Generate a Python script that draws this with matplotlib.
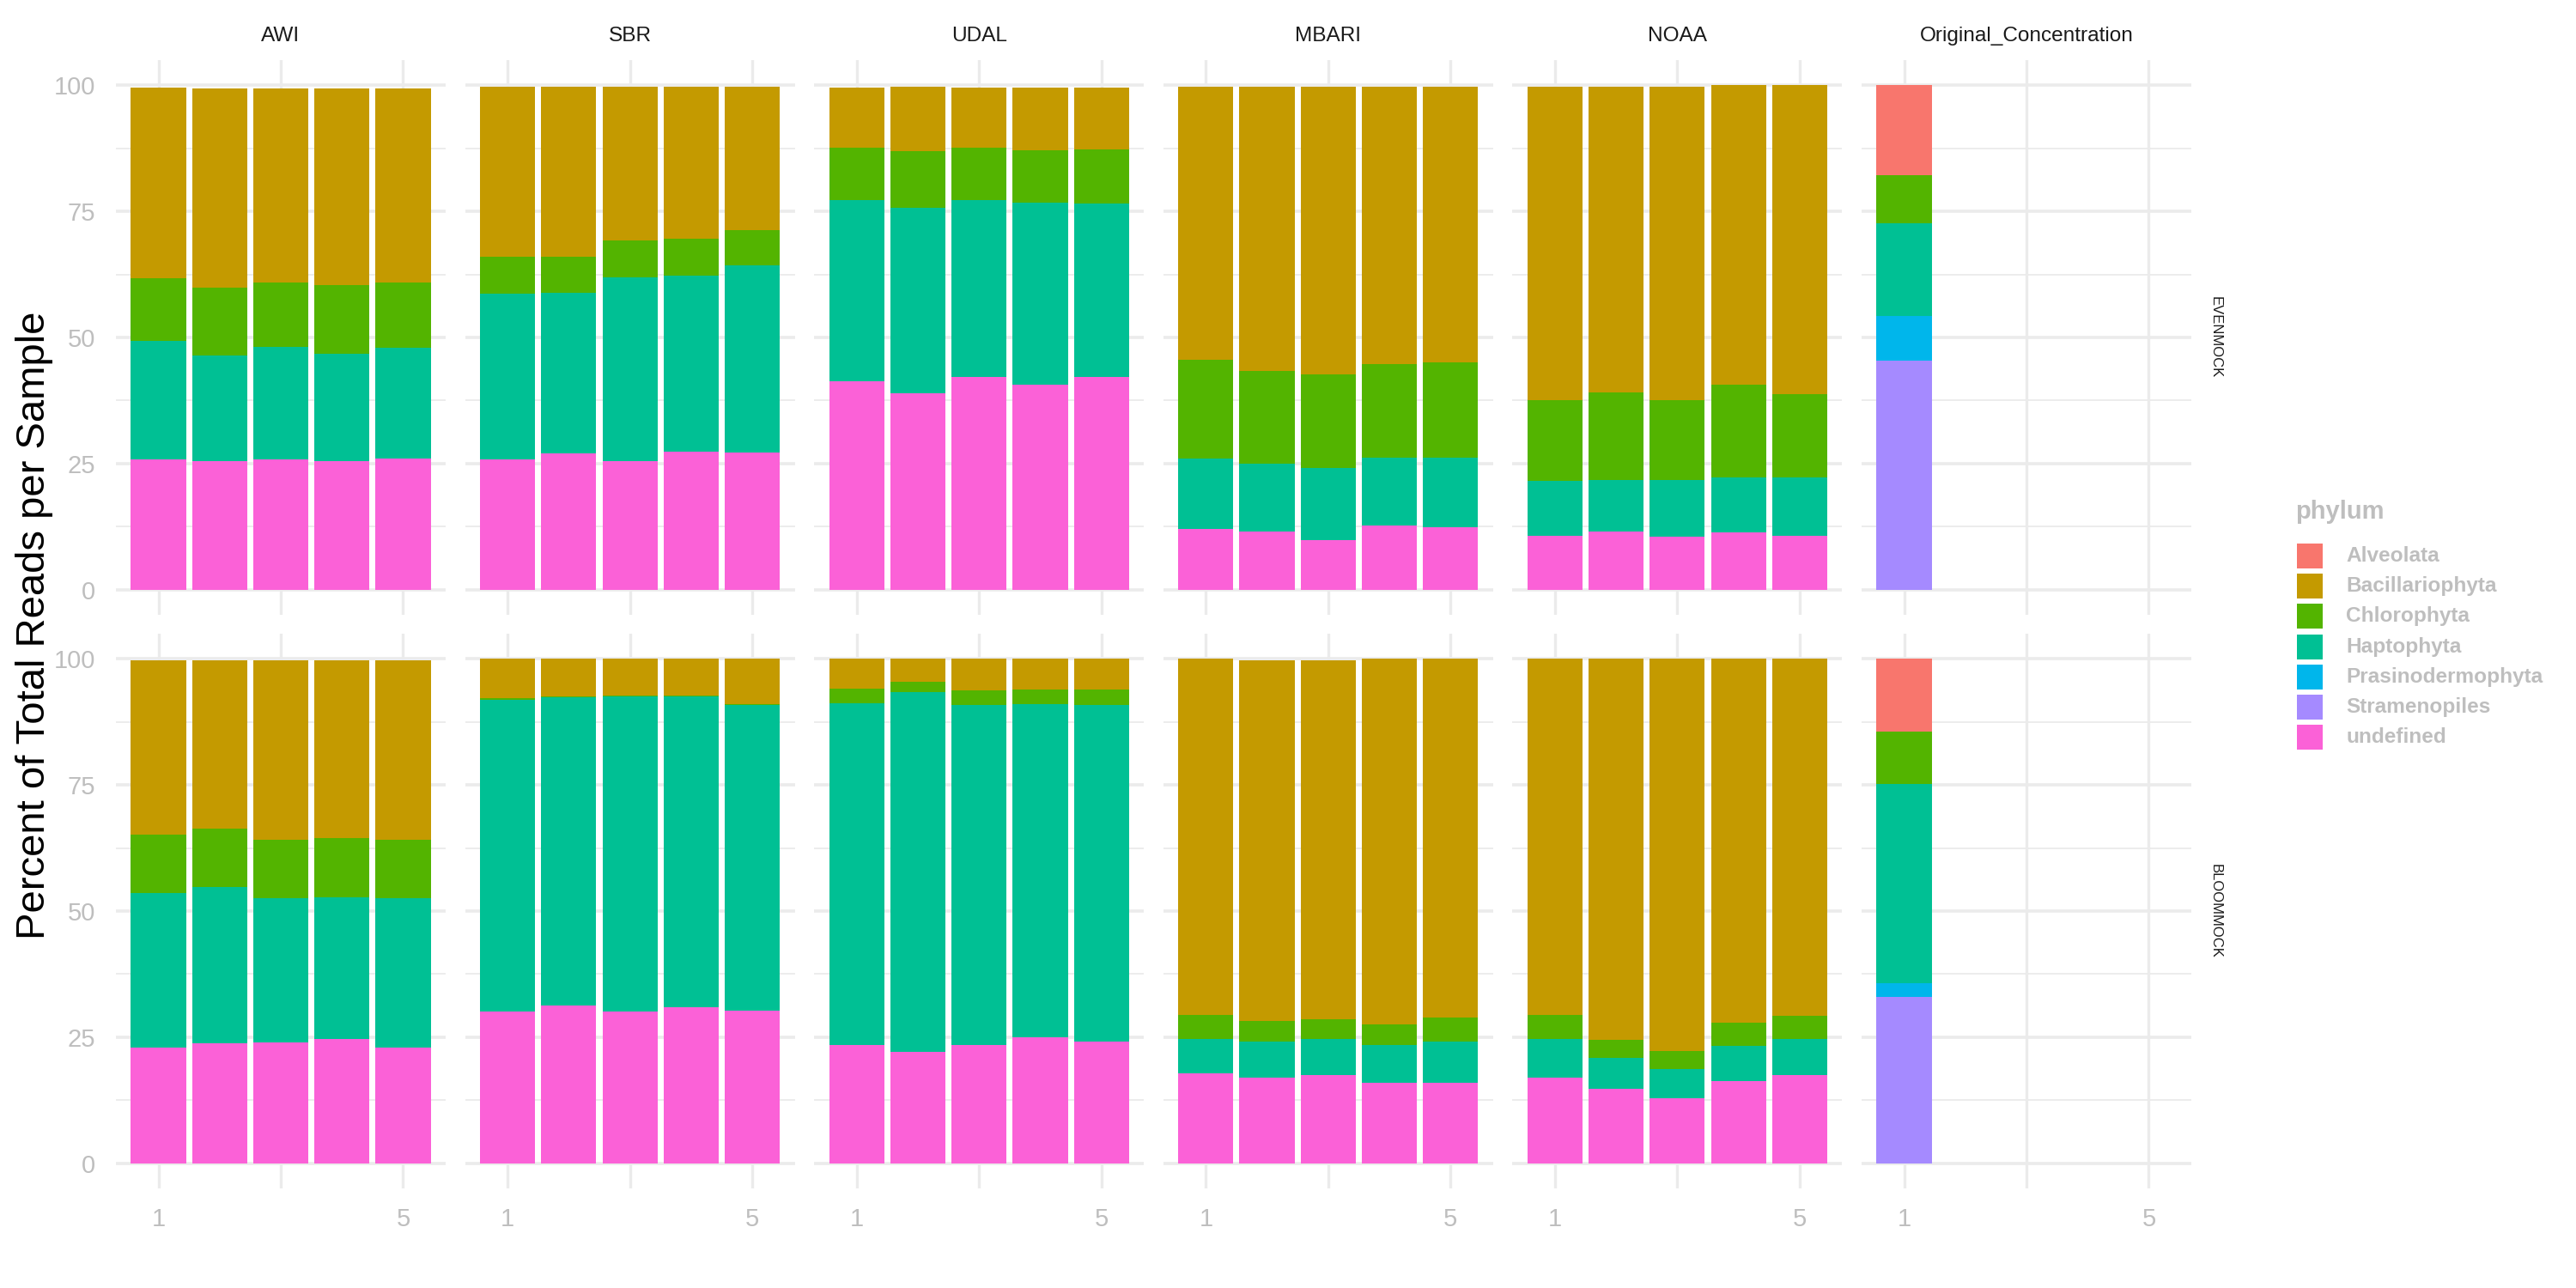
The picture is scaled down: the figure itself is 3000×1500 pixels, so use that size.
import numpy as np
import matplotlib
matplotlib.use('Agg')
import matplotlib.pyplot as plt
from matplotlib.patches import Rectangle

plt.rcParams['font.family'] = ['Liberation Sans', 'DejaVu Sans']

sites = ['AWI', 'SBR', 'UDAL', 'MBARI', 'NOAA', 'Original_Concentration']
mocks = ['EVENMOCK', 'BLOOMMOCK']
phyla = ['Alveolata', 'Bacillariophyta', 'Chlorophyta', 'Haptophyta',
         'Prasinodermophyta', 'Stramenopiles', 'undefined']
colors = ['#F8766D', '#C49A00', '#53B400', '#00C094', '#00B6EB', '#A58AFF', '#FB61D7']
reps = [5, 5, 5, 5, 5, 1]

# percent of reads; samples ordered AWI 1-5, SBR 1-5, UDAL 1-5, MBARI 1-5, NOAA 1-5, Original 1
even_alveolata = [0, 0, 0, 0, 0,  0, 0, 0, 0, 0,  0, 0, 0, 0, 0,
                  0, 0, 0, 0, 0,  0, 0, 0, 0, 0,  17.9]
even_bacillariophyta = [37.7, 39.6, 38.5, 39.0, 38.5,  33.8, 33.7, 30.5, 30.3, 28.5,
                        11.8, 12.7, 11.9, 12.4, 12.2,  54.3, 56.4, 57.0, 54.9, 54.7,
                        62.3, 60.7, 62.1, 59.4, 61.2,  0]
even_chlorophyta = [12.5, 13.3, 12.7, 13.6, 12.9,  7.3, 7.2, 7.3, 7.2, 7.0,
                    10.4, 11.3, 10.3, 10.3, 10.8,  19.5, 18.5, 18.6, 18.6, 18.8,
                    15.9, 17.3, 15.8, 18.3, 16.5,  9.5]
even_haptophyta = [23.5, 21.0, 22.4, 21.3, 22.0,  32.8, 31.8, 36.5, 35.0, 37.2,
                   36.0, 36.7, 35.2, 36.1, 34.4,  13.9, 13.3, 14.3, 13.5, 13.9,
                   10.9, 10.2, 11.3, 11.0, 11.7,  18.3]
even_prasinodermophyta = [0, 0, 0, 0, 0,  0, 0, 0, 0, 0,  0, 0, 0, 0, 0,
                          0, 0, 0, 0, 0,  0, 0, 0, 0, 0,  8.9]
even_stramenopiles = [0, 0, 0, 0, 0,  0, 0, 0, 0, 0,  0, 0, 0, 0, 0,
                      0, 0, 0, 0, 0,  0, 0, 0, 0, 0,  45.4]
even_undefined = [25.8, 25.5, 25.8, 25.5, 26.0,  25.9, 27.0, 25.5, 27.3, 27.1,
                  41.3, 39.0, 42.1, 40.7, 42.1,  12.1, 11.6, 9.8, 12.7, 12.3,
                  10.7, 11.6, 10.5, 11.3, 10.6,  0]

bloom_alveolata = [0, 0, 0, 0, 0,  0, 0, 0, 0, 0,  0, 0, 0, 0, 0,
                   0, 0, 0, 0, 0,  0, 0, 0, 0, 0,  14.4]
bloom_bacillariophyta = [34.6, 33.4, 35.6, 35.3, 35.6,  7.8, 7.5, 7.3, 7.3, 8.9,
                         5.9, 4.6, 6.3, 6.1, 6.1,  70.6, 71.6, 71.2, 72.4, 71.1,
                         70.6, 75.5, 77.7, 72.1, 70.8,  0]
bloom_chlorophyta = [11.7, 11.7, 11.7, 11.8, 11.7,  0.3, 0.1, 0.2, 0.2, 0.2,
                     2.9, 2.0, 2.9, 2.9, 3.1,  4.7, 4.0, 3.9, 4.1, 4.7,
                     4.7, 3.6, 3.6, 4.6, 4.6,  10.4]
bloom_haptophyta = [30.5, 31.0, 28.5, 28.0, 29.5,  61.8, 61.1, 62.4, 61.5, 60.6,
                    67.7, 71.3, 67.3, 66.1, 66.6,  6.8, 7.3, 7.3, 7.5, 8.2,
                    7.8, 6.1, 5.9, 7.1, 7.1,  39.5]
bloom_prasinodermophyta = [0, 0, 0, 0, 0,  0, 0, 0, 0, 0,  0, 0, 0, 0, 0,
                           0, 0, 0, 0, 0,  0, 0, 0, 0, 0,  2.7]
bloom_stramenopiles = [0, 0, 0, 0, 0,  0, 0, 0, 0, 0,  0, 0, 0, 0, 0,
                       0, 0, 0, 0, 0,  0, 0, 0, 0, 0,  33.0]
bloom_undefined = [23.0, 23.7, 24.0, 24.7, 23.0,  30.1, 31.3, 30.1, 31.0, 30.3,
                   23.5, 22.1, 23.5, 24.9, 24.2,  17.9, 16.9, 17.4, 16.0, 16.0,
                   16.9, 14.8, 12.8, 16.2, 17.5,  0]

even = [even_alveolata, even_bacillariophyta, even_chlorophyta, even_haptophyta,
        even_prasinodermophyta, even_stramenopiles, even_undefined]
bloom = [bloom_alveolata, bloom_bacillariophyta, bloom_chlorophyta, bloom_haptophyta,
         bloom_prasinodermophyta, bloom_stramenopiles, bloom_undefined]

W, H = 3000, 1500
fig = plt.figure(figsize=(15, 7.5), dpi=200)

grid_col = '#EBEBEB'
tick_col = '#BEBEBE'
panel_left = 135
panel_step = 406.6
panel_w = 384
rows_y = [(70, 716), (738, 1384)]

for r, (mock, table) in enumerate(zip(mocks, [even, bloom])):
    top, bot = rows_y[r]
    start = 0
    for c, site in enumerate(sites):
        left = panel_left + c * panel_step
        ax = fig.add_axes([left / W, 1 - bot / H, panel_w / W, (bot - top) / H])
        n = reps[c]
        x = np.arange(1, n + 1)
        bottom = np.zeros(n)
        # ggplot stacks the first level on top, so draw from the last one up
        for vals, col in zip(table[::-1], colors[::-1]):
            v = np.array(vals[start:start + n], dtype=float)
            ax.bar(x, v, bottom=bottom, width=0.9, color=col, linewidth=0, zorder=2)
            bottom += v
        start += n

        ax.set_xlim(0.305, 5.695)
        ax.set_ylim(-5, 105)
        for s in ax.spines.values():
            s.set_visible(False)
        for yv in [0, 25, 50, 75, 100]:
            ax.axhline(yv, color=grid_col, lw=1.3, zorder=0)
        for yv in [12.5, 37.5, 62.5, 87.5]:
            ax.axhline(yv, color=grid_col, lw=0.65, zorder=0)
        for xv in [1, 3, 5]:
            ax.axvline(xv, color=grid_col, lw=1.2, zorder=0)

        ax.set_xticks([1, 5])
        ax.set_yticks([0, 25, 50, 75, 100])
        ax.tick_params(length=0, colors=tick_col, labelsize=10.5)
        ax.tick_params(axis='x', pad=8)
        ax.tick_params(axis='y', pad=8.5)
        if r == 0:
            ax.set_xticklabels([])
            fig.text((left + panel_w / 2) / W, 1 - 42 / H, site, ha='center', va='center',
                     fontsize=8.8, color='#1A1A1A')
        if c > 0:
            ax.set_yticklabels([])

    fig.text(2580 / W, 1 - (top + bot) / 2 / H, mock, rotation=-90, ha='center', va='center',
             fontsize=6, color='#1A1A1A')

fig.text(40 / W, 1 - 728 / H, 'Percent of Total Reads per Sample', rotation=90,
         ha='center', va='center', fontsize=17, color='black')

# legend, laid out by hand like ggplot's guide
key_x, key_w, key_h = 2675, 30, 29
fig.text(2673 / W, 1 - 596 / H, 'phylum', ha='left', va='center',
         fontsize=10.5, fontweight='bold', color=tick_col)
for i, (ph, col) in enumerate(zip(phyla, colors)):
    yc = 647.5 + i * 35.2
    fig.add_artist(Rectangle((key_x / W, 1 - (yc + key_h / 2) / H), key_w / W, key_h / H,
                             transform=fig.transFigure, facecolor=col, edgecolor='none'))
    fig.text((key_x + key_w + 27) / W, 1 - yc / H, ph, ha='left', va='center',
             fontsize=8.8, fontweight='bold', color=tick_col)

fig.savefig('out.png', dpi=200, facecolor='white')
